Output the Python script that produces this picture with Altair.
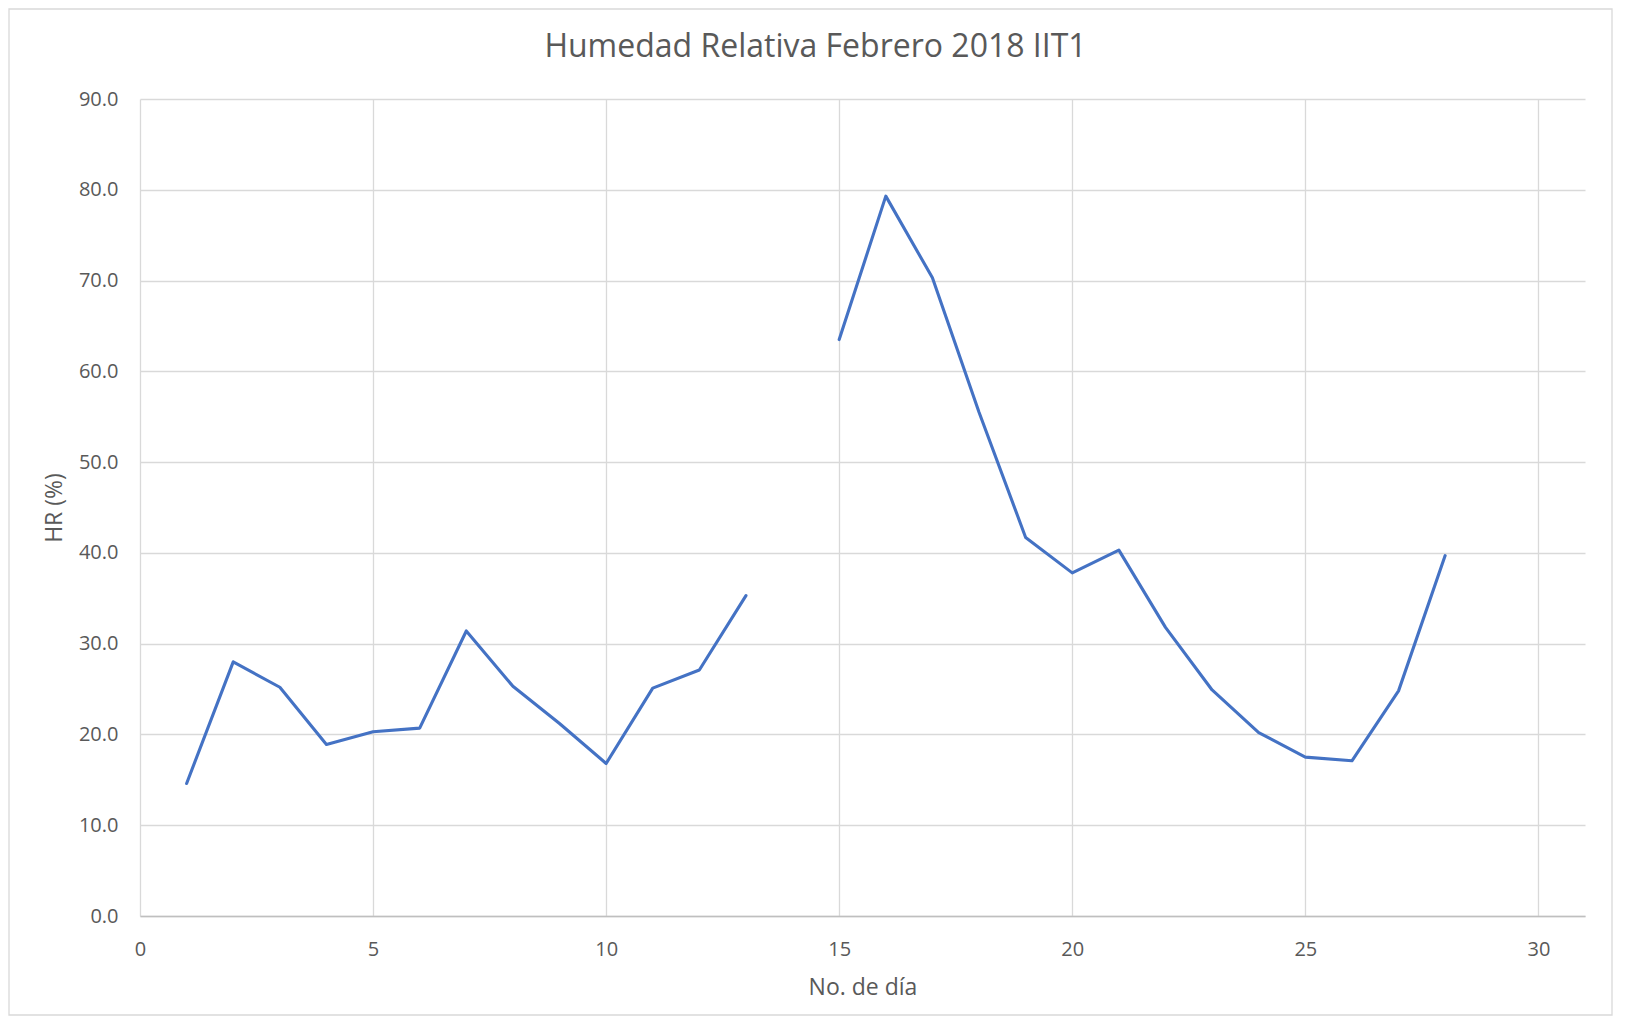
import altair as alt
import pandas as pd

days = [1, 2, 3, 4, 5, 6, 7, 8, 9, 10, 11, 12, 13,
        15, 16, 17, 18, 19, 20, 21, 22, 23, 24, 25, 26, 27, 28]
hr = [14.6, 28.0, 25.2, 18.9, 20.3, 20.7, 31.4, 25.3, 21.2, 16.8, 25.1, 27.1, 35.3,
      63.5, 79.3, 70.3, 55.5, 41.7, 37.8, 40.3, 31.8, 24.9, 20.2, 17.5, 17.1, 24.8, 39.7]
segment = [1] * 13 + [2] * 14

df = pd.DataFrame({"dia": days, "hr": hr, "seg": segment})

FONT = "Open Sans"
GREY = "#595959"

line = alt.Chart(df).mark_line(color="#4472C4", strokeWidth=3.1, strokeCap="round", strokeJoin="round").encode(
    x=alt.X("dia:Q", title="No. de día",
            scale=alt.Scale(domain=[0, 31], nice=False, zero=False),
            axis=alt.Axis(values=[0, 5, 10, 15, 20, 25, 30], format="d",
                          tickSize=0, labelPadding=23, titlePadding=17,
                          labelFlush=False,
                          domainColor="#bfbfbf", domainWidth=1.5,
                          gridColor="#d9d9d9", gridWidth=1.3)),
    y=alt.Y("hr:Q", title="HR (%)",
            scale=alt.Scale(domain=[0, 90], nice=False),
            axis=alt.Axis(values=list(range(0, 91, 10)), format=".1f",
                          tickSize=0, labelPadding=22, titlePadding=12,
                          labelFlush=False, domain=False,
                          gridColor="#d9d9d9", gridWidth=1.3)),
    detail="seg:N",
)

frame = alt.Chart(pd.DataFrame({"k": [0]})).mark_rect(
    fill=None, stroke="#d9d9d9", strokeWidth=1.3
).encode(
    x=alt.value(-131), x2=alt.value(1472),
    y=alt.value(-90), y2=alt.value(916),
)

chart = alt.layer(frame, line).properties(
    width=1445,
    height=817,
    title=alt.TitleParams("Humedad Relativa Febrero 2018 IIT1", anchor="middle",
                          frame="group", dx=-47, offset=-56,
                          fontSize=32, font=FONT, color=GREY, fontWeight="normal"),
    autosize=alt.AutoSizeParams(type="none"),
    padding={"left": 132, "top": 91, "right": 30, "bottom": 100},
).configure_axis(
    labelFont=FONT, titleFont=FONT, labelColor=GREY, titleColor=GREY,
    labelFontSize=20, titleFontSize=23, titleFontWeight="normal",
).configure_view(stroke=None)

chart.save("out.html", embed_options={"renderer": "svg", "actions": False})
